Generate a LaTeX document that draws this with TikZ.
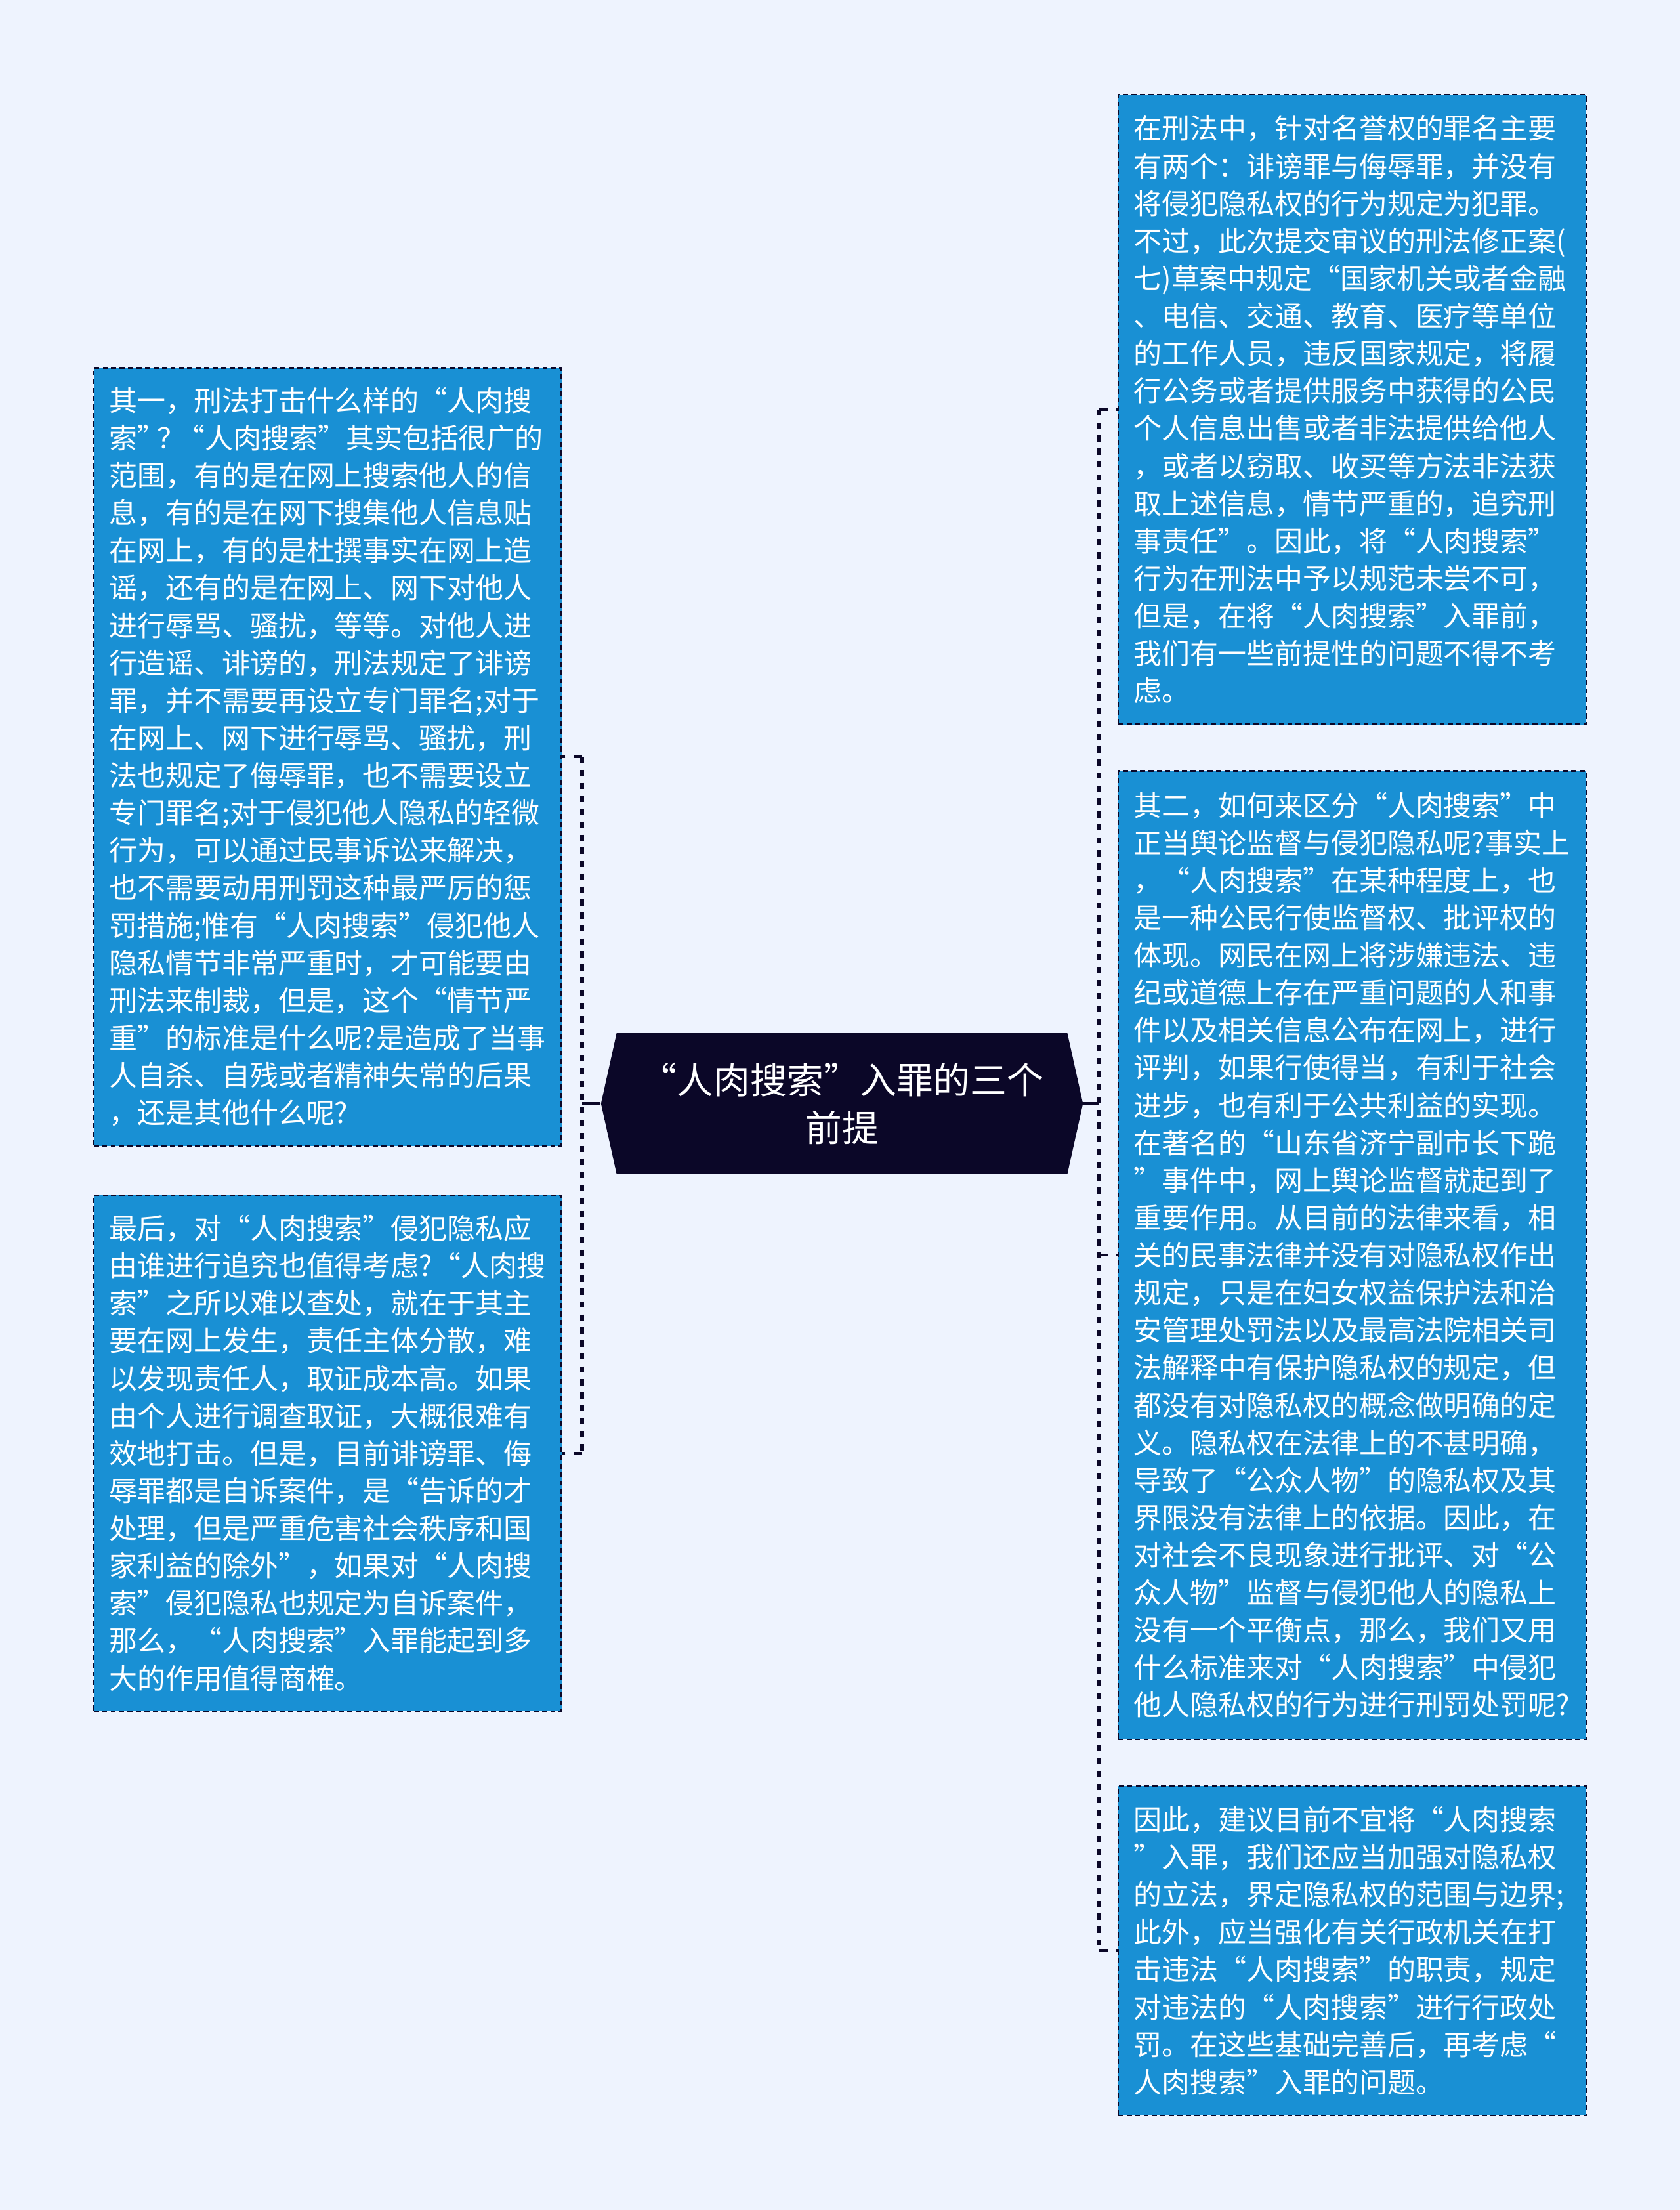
\documentclass[tikz,border=0pt]{standalone}
\usepackage{fontspec}
\setmainfont{Noto Sans CJK SC}
\usetikzlibrary{shapes.symbols, calc, positioning}
\definecolor{bgblue}{RGB}{238,243,254}
\definecolor{boxblue}{RGB}{25,144,212}
\definecolor{navy}{RGB}{11,7,40}

\begin{document}
\begin{tikzpicture}[x=0.5pt, y=-0.5pt]
\tikzset{
    text box/.style={
        rectangle, fill=boxblue, draw=navy, line width=0.6pt,
        dash pattern=on 1.8pt off 1.2pt,
        text=white, align=left, text width=155pt, inner xsep=5.5pt,
        minimum height=#1, font=\fontsize{10pt}{13.3pt}\selectfont
    },
    root box/.style={
        signal, signal to=west and east, signal pointer angle=155,
        fill=navy, draw=none, text=white, align=center,
        minimum width=171pt, minimum height=50pt,
        font=\fontsize{13pt}{17pt}\selectfont
    },
    stub/.style={draw=navy, line width=1.2pt},
    bus/.style={draw=navy, line width=1.6pt, dash pattern=on 2.2pt off 2.4pt},
    tick/.style={draw=navy, line width=1pt, dash pattern=on 3pt off 3pt},
}

  \fill[bgblue] (0,0) rectangle (1192,1568);
  \useasboundingbox (0,0) rectangle (1192,1568);

  \node[root box] (C) at (597.5,783) {“人肉搜索”入罪的三个\\前提};

  \node[text box=276pt] (L1) at (232.5,537) {其一，刑法打击什么样的“人肉搜\\索”\kern-3pt？\kern-3pt“人肉搜索”其实包括很广的\\范围，有的是在网上搜索他人的信\\息，有的是在网下搜集他人信息贴\\在网上，有的是杜撰事实在网上造\\谣，还有的是在网上、网下对他人\\进行辱骂、骚扰，等等。对他人进\\行造谣、诽谤的，刑法规定了诽谤\\罪，并不需要再设立专门罪名;对于\\在网上、网下进行辱骂、骚扰，刑\\法也规定了侮辱罪，也不需要设立\\专门罪名;对于侵犯他人隐私的轻微\\行为，可以通过民事诉讼来解决，\\也不需要动用刑罚这种最严厉的惩\\罚措施;惟有“人肉搜索”侵犯他人\\隐私情节非常严重时，才可能要由\\刑法来制裁，但是，这个“情节严\\重”的标准是什么呢?是造成了当事\\人自杀、自残或者精神失常的后果\\，还是其他什么呢?};
  \node[text box=183pt] (L2) at (232.5,1031) {最后，对“人肉搜索”侵犯隐私应\\由谁进行追究也值得考虑?“人肉搜\\索”之所以难以查处，就在于其主\\要在网上发生，责任主体分散，难\\以发现责任人，取证成本高。如果\\由个人进行调查取证，大概很难有\\效地打击。但是，目前诽谤罪、侮\\辱罪都是自诉案件，是“告诉的才\\处理，但是严重危害社会秩序和国\\家利益的除外”，如果对“人肉搜\\索”侵犯隐私也规定为自诉案件，\\那么，“人肉搜索”入罪能起到多\\大的作用值得商榷。};

  \node[text box=223.5pt] (R1) at (959.5,290.5) {在刑法中，针对名誉权的罪名主要\\有两个：诽谤罪与侮辱罪，并没有\\将侵犯隐私权的行为规定为犯罪。\\不过，此次提交审议的刑法修正案(\\七)草案中规定“国家机关或者金融\\、电信、交通、教育、医疗等单位\\的工作人员，违反国家规定，将履\\行公务或者提供服务中获得的公民\\个人信息出售或者非法提供给他人\\，或者以窃取、收买等方法非法获\\取上述信息，情节严重的，追究刑\\事责任”。因此，将“人肉搜索”\\行为在刑法中予以规范未尝不可，\\但是，在将“人肉搜索”入罪前，\\我们有一些前提性的问题不得不考\\虑。};
  \node[text box=343.5pt] (R2) at (959.5,890.5) {其二，如何来区分“人肉搜索”中\\正当舆论监督与侵犯隐私呢?事实上\\，“人肉搜索”在某种程度上，也\\是一种公民行使监督权、批评权的\\体现。网民在网上将涉嫌违法、违\\纪或道德上存在严重问题的人和事\\件以及相关信息公布在网上，进行\\评判，如果行使得当，有利于社会\\进步，也有利于公共利益的实现。\\在著名的“山东省济宁副市长下跪\\”事件中，网上舆论监督就起到了\\重要作用。从目前的法律来看，相\\关的民事法律并没有对隐私权作出\\规定，只是在妇女权益保护法和治\\安管理处罚法以及最高法院相关司\\法解释中有保护隐私权的规定，但\\都没有对隐私权的概念做明确的定\\义。隐私权在法律上的不甚明确，\\导致了“公众人物”的隐私权及其\\界限没有法律上的依据。因此，在\\对社会不良现象进行批评、对“公\\众人物”监督与侵犯他人的隐私上\\没有一个平衡点，那么，我们又用\\什么标准来对“人肉搜索”中侵犯\\他人隐私权的行为进行刑罚处罚呢?};
  \node[text box=117pt] (R3) at (959.5,1384) {因此，建议目前不宜将“人肉搜索\\”入罪，我们还应当加强对隐私权\\的立法，界定隐私权的范围与边界;\\此外，应当强化有关行政机关在打\\击违法“人肉搜索”的职责，规定\\对违法的“人肉搜索”进行行政处\\罚。在这些基础完善后，再考虑“\\人肉搜索”入罪的问题。};

  \coordinate (LJ) at ($(C.west)+(-13,0)$);
  \coordinate (RJ) at ($(C.east)+(11,0)$);

  \draw[stub] (C.west) -- (LJ);
  \draw[bus] (LJ |- L1.east) -- (LJ |- L2.east);
  \draw[tick] (LJ |- L1.east) -- (L1.east);
  \draw[tick] (LJ |- L2.east) -- (L2.east);

  \draw[stub] (C.east) -- (RJ);
  \draw[bus] (RJ |- R1.west) -- (RJ |- R3.west);
  \draw[tick] (RJ |- R1.west) -- (R1.west);
  \draw[tick] (RJ |- R2.west) -- (R2.west);
  \draw[tick] (RJ |- R3.west) -- (R3.west);

\end{tikzpicture}
\end{document}
